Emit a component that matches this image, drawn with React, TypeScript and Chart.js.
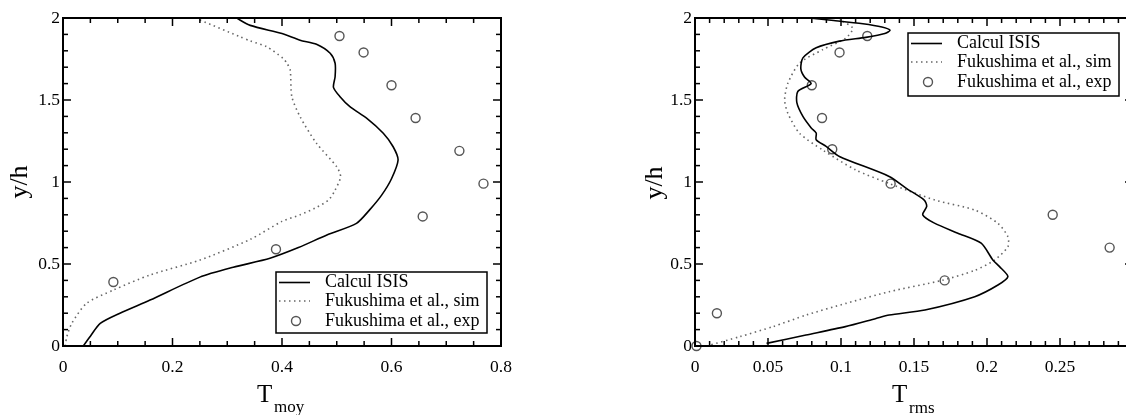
import React, { useEffect, useRef } from 'react';
import { Chart, registerables } from 'chart.js';

Chart.register(...registerables);

const FONT = '"Liberation Serif", "Times New Roman", serif';

// ---------- Left panel: T_moy ----------
const moyIsisX = [0.037, 0.05, 0.068, 0.104, 0.159, 0.25, 0.311, 0.378, 0.43, 0.482, 0.536, 0.56, 0.582, 0.6, 0.612, 0.603, 0.585, 0.555, 0.524, 0.506, 0.494, 0.497, 0.497, 0.488, 0.463, 0.433, 0.4, 0.342, 0.317];
const moyIsisY = [0, 0.06, 0.138, 0.2, 0.28, 0.42, 0.48, 0.535, 0.6, 0.677, 0.748, 0.83, 0.92, 1.02, 1.134, 1.215, 1.297, 1.388, 1.459, 1.52, 1.577, 1.642, 1.724, 1.785, 1.84, 1.865, 1.905, 1.955, 2.0];

const moySimX = [0.004, 0.007, 0.016, 0.043, 0.092, 0.159, 0.25, 0.342, 0.4, 0.433, 0.46, 0.485, 0.497, 0.507, 0.5, 0.463, 0.433, 0.418, 0.415, 0.409, 0.402, 0.372, 0.342, 0.323, 0.25];
const moySimY = [0, 0.057, 0.138, 0.26, 0.341, 0.433, 0.524, 0.65, 0.76, 0.8, 0.84, 0.89, 0.951, 1.032, 1.093, 1.236, 1.398, 1.52, 1.683, 1.724, 1.754, 1.825, 1.86, 1.886, 1.988];

const moyExpX = [0.092, 0.389, 0.657, 0.768, 0.724, 0.644, 0.6, 0.549, 0.505];
const moyExpY = [0.39, 0.59, 0.79, 0.99, 1.19, 1.39, 1.59, 1.79, 1.89];

// ---------- Right panel: T_rms ----------
const rmsIsisX = [0.049, 0.076, 0.103, 0.124, 0.133, 0.1575, 0.1916, 0.2075, 0.2143, 0.2086, 0.204, 0.196, 0.18, 0.164, 0.156, 0.1587, 0.157, 0.145, 0.133, 0.0989, 0.0898, 0.083, 0.083, 0.0796, 0.0739, 0.0698, 0.0704, 0.0795, 0.075, 0.0725, 0.0739, 0.083, 0.0989, 0.117, 0.13, 0.1336, 0.128, 0.115, 0.095, 0.0784];
const rmsIsisY = [0.016, 0.067, 0.118, 0.168, 0.189, 0.22, 0.301, 0.372, 0.423, 0.484, 0.525, 0.627, 0.688, 0.749, 0.8, 0.851, 0.89, 0.96, 1.034, 1.156, 1.217, 1.258, 1.299, 1.33, 1.4, 1.482, 1.552, 1.6, 1.64, 1.69, 1.757, 1.818, 1.859, 1.882, 1.905, 1.925, 1.945, 1.965, 1.985, 2.0];

const rmsSimX = [0.008, 0.0307, 0.0534, 0.0762, 0.1034, 0.133, 0.169, 0.1916, 0.2052, 0.2143, 0.2143, 0.2075, 0.1916, 0.1643, 0.133, 0.1102, 0.0875, 0.0716, 0.0636, 0.0614, 0.0636, 0.0716, 0.0875, 0.1034, 0.108, 0.0989];
const rmsSimY = [0, 0.057, 0.118, 0.189, 0.26, 0.331, 0.4, 0.461, 0.524, 0.605, 0.666, 0.748, 0.829, 0.89, 0.991, 1.073, 1.195, 1.297, 1.419, 1.5, 1.602, 1.725, 1.807, 1.878, 1.939, 1.99];

const rmsExpX = [0.001, 0.015, 0.171, 0.284, 0.245, 0.134, 0.094, 0.087, 0.08, 0.099, 0.118];
const rmsExpY = [0, 0.2, 0.4, 0.6, 0.8, 0.99, 1.2, 1.39, 1.59, 1.79, 1.89];

const seriesLabels = ['Calcul ISIS', 'Fukushima et al., sim', 'Fukushima et al., exp'];
const yTitle = 'y/h';
const moyTitle = ['T', 'moy'];
const rmsTitle = ['T', 'rms'];

const zip = (xs: number[], ys: number[]) => xs.map((x, i) => ({ x, y: ys[i] }));

type Panel = {
  id: string;
  isisX: number[]; isisY: number[];
  simX: number[]; simY: number[];
  expX: number[]; expY: number[];
  xMax: number; xStep: number; xMinor: number; hideAbove?: number;
  yAxisW: number; padRight: number;
  legend: { x: number; y: number; w: number; h: number };
  xTitle: string[]; tX: number; tBase: number; subX: number; subBase: number;
  yTitleX: number; yTitleY: number;
};

const DOT = [1.5, 3.5];

function framePlugin(p: Panel) {
  return {
    id: 'frame_' + p.id,
    afterDraw(chart: any) {
      const { ctx, chartArea: a, scales } = chart;
      const xs = scales.x, ys = scales.y;
      ctx.save();
      const seg = (x1: number, y1: number, x2: number, y2: number) => {
        ctx.beginPath(); ctx.moveTo(x1, y1); ctx.lineTo(x2, y2); ctx.stroke();
      };
      ctx.strokeStyle = '#000';
      ctx.lineWidth = 1.5;
      const nx = Math.round(p.xMax / p.xMinor);
      const perMajorX = Math.round(p.xStep / p.xMinor);
      for (let i = 0; i <= nx; i++) {
        const px = xs.getPixelForValue(i * p.xMinor);
        const len = i % perMajorX === 0 ? 8 : 5;
        seg(px, a.bottom, px, a.bottom - len);
        seg(px, a.top, px, a.top + len);
      }
      for (let i = 0; i <= 20; i++) {
        const py = ys.getPixelForValue(i * 0.1);
        const len = i % 5 === 0 ? 8 : 5;
        seg(a.left, py, a.left + len, py);
        seg(a.right, py, a.right - len, py);
      }
      ctx.lineWidth = 2;
      ctx.strokeRect(a.left, a.top, a.right - a.left, a.bottom - a.top);

      // legend
      const b = p.legend;
      ctx.fillStyle = '#fff';
      ctx.fillRect(b.x, b.y, b.w, b.h);
      ctx.lineWidth = 1.5;
      ctx.strokeStyle = '#000';
      ctx.strokeRect(b.x, b.y, b.w, b.h);
      const rows = [b.y + 10.5, b.y + 29, b.y + 49];
      ctx.lineWidth = 1.6;
      seg(b.x + 3, rows[0], b.x + 34, rows[0]);
      ctx.setLineDash(DOT);
      ctx.strokeStyle = '#666';
      seg(b.x + 3, rows[1], b.x + 34, rows[1]);
      ctx.setLineDash([]);
      ctx.strokeStyle = '#555';
      ctx.lineWidth = 1.4;
      ctx.beginPath(); ctx.arc(b.x + 20, rows[2], 4.5, 0, Math.PI * 2); ctx.stroke();
      ctx.fillStyle = '#000';
      ctx.font = `18px ${FONT}`;
      ctx.textAlign = 'left';
      ctx.textBaseline = 'middle';
      chart.data.datasets.forEach((d: any, i: number) => ctx.fillText(d.label, b.x + 49, rows[i]));

      // x title with subscript
      ctx.textBaseline = 'alphabetic';
      ctx.font = `25px ${FONT}`;
      ctx.fillText(p.xTitle[0], p.tX, p.tBase);
      ctx.font = `17px ${FONT}`;
      ctx.fillText(p.xTitle[1], p.subX, p.subBase);

      // y title
      ctx.translate(p.yTitleX, p.yTitleY);
      ctx.rotate(-Math.PI / 2);
      ctx.font = `26px ${FONT}`;
      ctx.textAlign = 'center';
      ctx.textBaseline = 'middle';
      ctx.fillText(yTitle, 0, 0);
      ctx.restore();
    },
  };
}

function buildConfig(p: Panel): any {
  const tickFont = { family: FONT, size: 17.5 };
  return {
    type: 'scatter',
    data: {
      datasets: [
        {
          label: seriesLabels[0], data: zip(p.isisX, p.isisY), showLine: true,
          borderColor: '#000', borderWidth: 1.6, pointRadius: 0, tension: 0.25, fill: false,
        },
        {
          label: seriesLabels[1], data: zip(p.simX, p.simY), showLine: true,
          borderColor: '#666', borderWidth: 1.6, borderDash: DOT, pointRadius: 0, tension: 0.25, fill: false,
        },
        {
          label: seriesLabels[2], data: zip(p.expX, p.expY), showLine: false,
          pointRadius: 4.5, pointBorderColor: '#555', pointBackgroundColor: 'rgba(0,0,0,0)',
          pointBorderWidth: 1.4, clip: false,
        },
      ],
    },
    options: {
      animation: false,
      responsive: false,
      maintainAspectRatio: false,
      layout: { padding: { left: 0, top: 18, right: p.padRight, bottom: 0 } },
      plugins: { legend: { display: false }, tooltip: { enabled: false } },
      scales: {
        x: {
          type: 'linear', min: 0, max: p.xMax,
          ticks: {
            stepSize: p.xStep, autoSkip: false, maxRotation: 0, color: '#000', font: tickFont, padding: 11,
            callback: (v: any) => {
              const n = Number(v);
              if (p.hideAbove !== undefined && n > p.hideAbove) return '';
              return String(Math.round(n * 1000) / 1000);
            },
          },
          grid: { display: false, drawTicks: false },
          border: { display: false },
          afterFit: (s: any) => { s.height = 69; },
        },
        y: {
          type: 'linear', min: 0, max: 2,
          ticks: {
            stepSize: 0.5, autoSkip: false, color: '#000', font: tickFont, padding: 3,
            callback: (v: any) => String(Math.round(Number(v) * 1000) / 1000),
          },
          grid: { display: false, drawTicks: false },
          border: { display: false },
          afterFit: (s: any) => { s.width = p.yAxisW; },
        },
      },
    },
    plugins: [framePlugin(p)],
  };
}

const leftPanel: Panel = {
  id: 'moy',
  isisX: moyIsisX, isisY: moyIsisY, simX: moySimX, simY: moySimY, expX: moyExpX, expY: moyExpY,
  xMax: 0.8, xStep: 0.2, xMinor: 0.05,
  yAxisW: 63, padRight: 59,
  legend: { x: 276, y: 272, w: 211, h: 61 },
  xTitle: moyTitle, tX: 257, tBase: 402, subX: 274, subBase: 412,
  yTitleX: 20, yTitleY: 182,
};

const rightPanel: Panel = {
  id: 'rms',
  isisX: rmsIsisX, isisY: rmsIsisY, simX: rmsSimX, simY: rmsSimY, expX: rmsExpX, expY: rmsExpY,
  xMax: 0.3, xStep: 0.05, xMinor: 0.01, hideAbove: 0.28,
  yAxisW: 95, padRight: 27,
  legend: { x: 308, y: 33, w: 211, h: 63 },
  xTitle: rmsTitle, tX: 292, tBase: 402, subX: 309, subBase: 413,
  yTitleX: 55, yTitleY: 183,
};

function PanelChart({ panel, left }: { panel: Panel; left: number }) {
  const ref = useRef<HTMLCanvasElement | null>(null);
  useEffect(() => {
    if (!ref.current) return;
    const chart = new Chart(ref.current, buildConfig(panel));
    return () => chart.destroy();
  }, [panel]);
  return (
    <canvas
      ref={ref}
      width={560}
      height={415}
      style={{ position: 'absolute', left, top: 0, width: 560, height: 415 }}
    />
  );
}

export default function App() {
  return (
    <div
      style={{
        position: 'fixed', left: 0, top: 0, width: 1126, height: 415,
        overflow: 'hidden', background: '#fff',
      }}
    >
      <PanelChart panel={leftPanel} left={0} />
      <PanelChart panel={rightPanel} left={600} />
    </div>
  );
}
